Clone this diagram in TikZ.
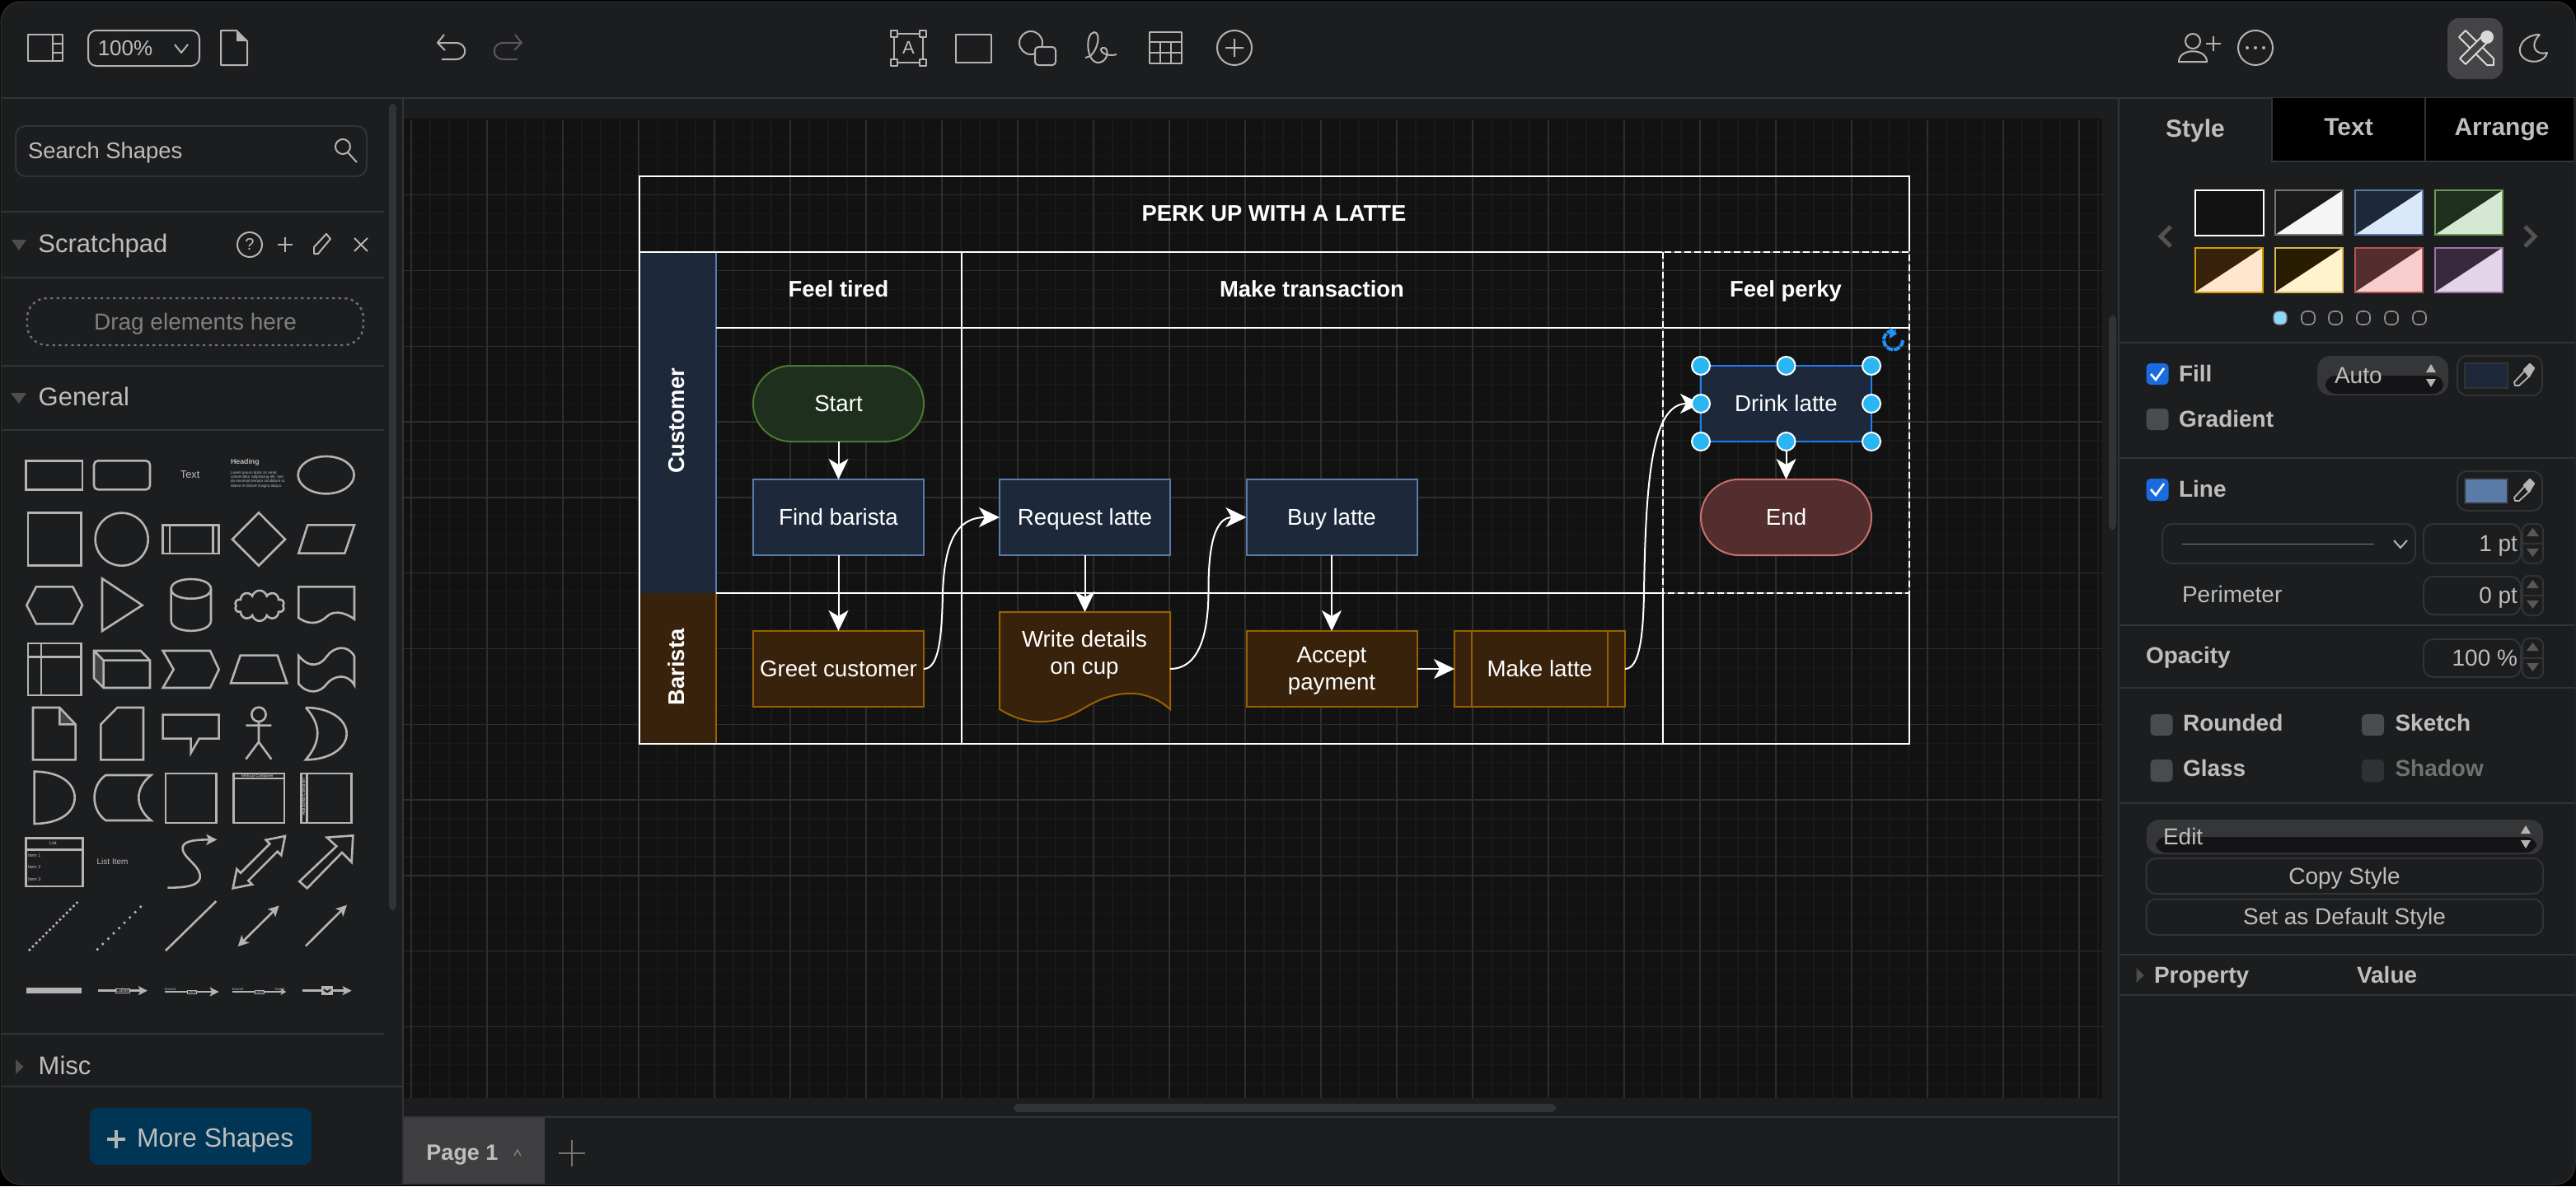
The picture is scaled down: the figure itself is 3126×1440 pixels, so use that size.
\documentclass[tikz,border=0pt]{standalone}
\usepackage{fontspec}
\setmainfont{Liberation Sans}
\usetikzlibrary{arrows.meta,shapes.geometric,shapes.symbols,calc}
\definecolor{uibg}{HTML}{1C1D1F}
\definecolor{cnv}{HTML}{121212}
\definecolor{sepc}{HTML}{323335}
\definecolor{uit}{HTML}{BEBEBE}
\definecolor{ico}{HTML}{B4B4B4}
\definecolor{gminor}{HTML}{1A1A1A}
\definecolor{gmajor}{HTML}{2E2E2E}
\definecolor{bluef}{HTML}{1D293B}
\definecolor{blues}{HTML}{5A7AA8}
\definecolor{orf}{HTML}{38220C}
\definecolor{ors}{HTML}{996000}
\definecolor{grf}{HTML}{1F2F1E}
\definecolor{grs}{HTML}{4A7A2E}
\definecolor{ref}{HTML}{542E2E}
\definecolor{res}{HTML}{C9706E}
\definecolor{hblue}{HTML}{29B6F2}
\definecolor{chk}{HTML}{1A6BE0}
\definecolor{chg}{HTML}{4A4B4D}
\definecolor{morebtn}{HTML}{003555}
\definecolor{sw2d}{HTML}{1A1A1A}\definecolor{sw2l}{HTML}{F5F5F5}\definecolor{sw2b}{HTML}{777777}
\definecolor{sw3l}{HTML}{DAE8FC}
\definecolor{sw4l}{HTML}{D5E8D4}\definecolor{sw4b}{HTML}{6A9A50}
\definecolor{sw5l}{HTML}{FFE6CC}\definecolor{sw5b}{HTML}{D79B00}
\definecolor{sw6d}{HTML}{281D00}\definecolor{sw6l}{HTML}{FFF2CC}\definecolor{sw6b}{HTML}{D6B656}
\definecolor{sw7l}{HTML}{F8CECC}\definecolor{sw7b}{HTML}{B85450}
\definecolor{sw8d}{HTML}{39293D}\definecolor{sw8l}{HTML}{E1D5E7}\definecolor{sw8b}{HTML}{9673A6}
\tikzset{
  x=0.5pt,y=-0.5pt,
  fs/.code={\pgfmathsetmacro\fsh{0.65*#1}\tikzset{font=\fontsize{#1}{#1}\selectfont,text height=\fsh pt,text depth=0pt}},
  uitx/.style={inner sep=0pt,outer sep=0pt,text=uit},
  sepl/.style={draw=sepc,line width=1pt},
  boxl/.style={draw=sepc,line width=1pt,rounded corners=6pt},
  icon/.style={draw=ico,line width=1pt,line join=round},
  sh/.style={draw=ico,line width=1.3pt,line join=miter},
  flow/.style={inner sep=0pt,outer sep=0pt,minimum width=103.5pt,minimum height=46pt,line width=1pt,text=white,fs=13.85},
  bluebox/.style={flow,draw=blues,fill=bluef},
  orbox/.style={flow,draw=ors,fill=orf},
  pill/.style={flow,rounded corners=23pt},
  wl/.style={draw=white,line width=1pt},
  conn/.style={draw=white,line width=1pt,-{Stealth[length=12.5pt,width=12pt,inset=3.5pt]}},
  head/.style={uitx,text=white,fs=13.7},
  handle/.style={circle,fill=hblue,draw=white,line width=1pt,minimum size=11pt,inner sep=0pt},
  chkon/.style={fill=chk,rounded corners=2.5pt},
  chkoff/.style={fill=chg,rounded corners=2.5pt},
  swb/.style={line width=1pt},
}
\newcommand{\T}[5][anchor=west]{\node[uitx,fs=#4,#1] (#2) at (#3) {#5};}
\newcommand{\spin}[1]{%
  \draw[boxl,rounded corners=4pt] (3061,#1-24) rectangle (3086,#1+24);
  \draw[sepc,line width=.8pt] (3061,#1) -- (3086,#1);
  \fill[gray!60!uibg] (3073.5,#1-19) -- (3081,#1-9) -- (3066,#1-9) -- cycle;
  \fill[gray!60!uibg] (3073.5,#1+16) -- (3081,#1+6) -- (3066,#1+6) -- cycle;}
\newcommand{\dropper}[2]{%
  \begin{scope}[shift={(#1,#2)}]
  \draw[icon,line width=.9pt] (-10,12) -- (-11,8) -- (2,-6) -- (8,0) -- (-5,12) -- cycle;
  \draw[icon,line width=1.1pt,fill=ico] (1,-7) -- (8,-14) -- (13,-9) -- (7,1) -- cycle;
  \end{scope}}
\newcommand{\updown}[2]{%
  \fill[ico] (#1,#2-14) -- (#1+6,#2-4) -- (#1-6,#2-4) -- cycle;
  \fill[ico] (#1,#2+14) -- (#1+6,#2+4) -- (#1-6,#2+4) -- cycle;}
\newcommand{\swatch}[5]{% x y dark light border
  \fill[#3] (#1,#2) rectangle (#1+82,#2+54);
  \fill[#4] (#1+82,#2) -- (#1+82,#2+54) -- (#1,#2+54) -- cycle;
  \draw[#5,swb] (#1,#2) rectangle (#1+82,#2+54);}
\newcommand{\dotb}[1]{\draw[draw=ico!75!uibg,line width=.8pt,rounded corners=3pt] (#1-8,378) rectangle (#1+8,394);}
\begin{document}
\begin{tikzpicture}
\useasboundingbox (0,0) rectangle (3126,1440);
\fill[black] (0,0) rectangle (3126,1440);
\fill[uibg,draw=sepc,line width=.5pt,rounded corners=12pt] (1,2) rectangle (3125,1438);
% ---------- canvas
\fill[cnv] (489,144) rectangle (2551,1333);
\begin{scope}
\clip (489,146) rectangle (2551,1333);
\foreach \i in {-1,...,95}{\draw[gminor,line width=.6pt] (499+23*\i,144) -- (499+23*\i,1333);}
\foreach \i in {-4,...,50}{\draw[gminor,line width=.6pt] (489,236.7+22.95*\i) -- (2551,236.7+22.95*\i);}
\foreach \i in {0,...,22}{\draw[gmajor,line width=.7pt] (499+92*\i,144) -- (499+92*\i,1333);}
\foreach \i in {-1,...,12}{\draw[gmajor,line width=.7pt] (489,236.7+91.8*\i) -- (2551,236.7+91.8*\i);}
\end{scope}
% ---------- chrome lines
\draw[sepl] (1,118.5) -- (3125,118.5);
\draw[sepl] (489,118) -- (489,1438);
\draw[sepl] (2571,118) -- (2571,1438);
\draw[sepl] (489,1356) -- (2571,1356);
\fill[sepc,rounded corners=3pt] (472,126) rectangle (481,1105);
\fill[sepc,rounded corners=3pt] (2559,383) rectangle (2568,643);
\fill[sepc,rounded corners=3pt] (1230,1340) rectangle (1888,1350);
% ---------- top bar
\draw[icon] (34,42) rectangle (76,74) (64,42) -- (64,74) (64,53) -- (76,53) (64,64) -- (76,64);
\draw[icon,rounded corners=5pt] (107,37) rectangle (242,80);
\T[anchor=center]{zoomtxt}{152,59}{13}{100\%}
\draw[icon] (212,54) -- (220,64) -- (228,54);
\draw[icon] (268,37) -- (287,37) -- (300,50) -- (300,79) -- (268,79) -- cycle;
\fill[ico] (287,37) -- (300,50) -- (287,50) -- cycle;
\draw[icon] (539,42) -- (531,52) -- (540,61) (531,52) -- (553,52) .. controls (568,52) and (568,72) .. (553,72) -- (536,72);
\draw[icon,draw=ico!40!uibg] (625,42) -- (633,52) -- (624,61) (633,52) -- (611,52) .. controls (596,52) and (596,72) .. (611,72) -- (628,72);
\draw[icon] (1085,41) rectangle (1120,76);
\foreach \p/\q in {1085/41,1120/41,1085/76,1120/76}{\draw[icon,fill=uibg] (\p-4,\q-4) rectangle (\p+4,\q+4);}
\T[anchor=center]{atxt}{1102.5,58}{11}{A}
\draw[icon] (1160,42) rectangle (1203,76);
\draw[icon] (1251,52) circle[radius=14];
\draw[icon,fill=uibg,rounded corners=2pt] (1256,57) rectangle (1281,79);
\draw[icon] (1317,70) .. controls (1330,70) and (1338,40) .. (1328,39) .. controls (1316,40) and (1318,78) .. (1334,76) .. controls (1346,74) and (1346,56) .. (1338,58) .. controls (1332,60) and (1340,70) .. (1355,66);
\draw[icon] (1395,39) rectangle (1434,77) (1395,51) -- (1434,51) (1395,64) -- (1434,64) (1408,51) -- (1408,77) (1421,51) -- (1421,77);
\draw[icon] (1498,58) circle[radius=21] (1498,47) -- (1498,69) (1487,58) -- (1509,58);
\draw[icon] (2661,50) circle[radius=9] (2644,75) .. controls (2644,58) and (2678,58) .. (2678,75) -- cycle;
\draw[icon] (2686,44) -- (2686,62) (2677,53) -- (2695,53);
\draw[icon] (2737,58) circle[radius=21];
\foreach \d in {-10,0,10}{\fill[ico] (2737+\d,58) circle[radius=2];}
\fill[gray!40!uibg,rounded corners=7pt] (2970,22) rectangle (3037,96);
\begin{scope}[shift={(3005,58)}]
\draw[icon,draw=white!85!black] (-21,-13) -- (-13,-21) -- (21,13) -- (21,21) -- (13,21) -- cycle;
\draw[icon,draw=white!85!black,fill=gray!40!uibg] (-20,13) -- (6,-13) -- (13,-6) -- (-13,20) -- cycle;
\fill[white!85!black] (13,-13) circle[radius=8];
\end{scope}
\draw[icon] (3082,42) .. controls (3060,42) and (3052,62) .. (3062,70) .. controls (3070,78) and (3088,76) .. (3091,64) .. controls (3078,68) and (3068,56) .. (3082,42);
% ---------- left panel head
\draw[boxl] (19,153) rectangle (445,214);
\T{searchtxt}{34,184}{13.7}{Search Shapes}
\draw[icon] (416,178) circle[radius=9] (422,185) -- (433,197);
\draw[sepl] (1,257) -- (466,257);
\fill[gray!50!uibg] (14,291) -- (32,291) -- (23,304) -- cycle;
\T{scratchtxt}{46.5,296}{15.5}{Scratchpad}
\draw[icon] (303,297) circle[radius=15];
\T[anchor=center]{qtxt}{303,297}{10}{?}
\draw[icon] (346,288) -- (346,306) (337,297) -- (355,297);
\draw[icon] (381,308) -- (381,300) -- (396,284) -- (401,290) -- (386,308) -- cycle;
\draw[icon] (430,289) -- (446,305) (446,289) -- (430,305);
\draw[sepl] (1,337) -- (466,337);
\draw[draw=gray!85!uibg,line width=1.2pt,dash pattern=on 1.6pt off 2.2pt,rounded corners=12pt] (33,362) rectangle (441,419);
\T[anchor=center]{dragtxt}{237,391}{14}{\textcolor{gray}{Drag elements here}}
\draw[sepl] (1,444) -- (466,444);
\fill[gray!50!uibg] (13,477) -- (32,477) -- (23,490) -- cycle;
\T{generaltxt}{46.7,482}{15.5}{General}
\draw[sepl] (1,522) -- (466,522);
% ---------- shape palette upper (zoom coordinates)
\begin{scope}[shift={(0,460)},x=.16667pt,y=-.16667pt]
\draw[sh] (95,298) rectangle (300,403);
\draw[sh,rounded corners=2.5pt] (342,298) rectangle (546,403);
\T[anchor=center]{ptext}{692,348}{6.4}{Text}
\T{pheading}{840,303}{4.4}{\textbf{Heading}}
\T{plorem1}{840,343}{2.3}{Lorem ipsum dolor sit amet,}
\T{plorem2}{840,358}{2.3}{consectetur adipisicing elit, sed}
\T{plorem3}{840,373}{2.3}{do eiusmod tempor incididunt ut}
\T{plorem4}{840,390}{2.3}{labore et dolore magna aliqua.}
\draw[sh] (1187,350) ellipse[x radius=102,y radius=68];
\draw[sh] (102,488) rectangle (295,680);
\draw[sh] (443,584) circle[radius=96];
\draw[sh] (593,532) rectangle (797,636) (618,532) -- (618,636) (775,532) -- (775,636);
\draw[sh] (942,487) -- (1038,584) -- (942,680) -- (846,584) -- cycle;
\draw[sh] (1087,635) -- (1120,532) -- (1290,532) -- (1255,635) -- cycle;
\draw[sh] (97,824) -- (132,757) -- (265,757) -- (300,824) -- (265,892) -- (132,892) -- cycle;
\draw[sh] (372,727) -- (518,824) -- (372,918) -- cycle;
\draw[sh] (623,765) .. controls (623,717) and (768,717) .. (768,765) -- (768,880) .. controls (768,930) and (623,930) .. (623,880) -- cycle;
\draw[sh] (623,765) .. controls (623,812) and (768,812) .. (768,765);
\node[cloud,sh,cloud puffs=10,aspect=1.6,minimum width=30pt,minimum height=18.5pt,inner sep=0pt] (pcloud) at (945,826) {};
\draw[sh] (1087,757) -- (1290,757) -- (1290,875) .. controls (1250,845) and (1210,845) .. (1190,865) .. controls (1160,895) and (1120,895) .. (1087,870) -- cycle;
\draw[sh] (102,963) rectangle (295,1152) (150,963) -- (150,1152) (102,1012) -- (295,1012);
\fill[gray!40!uibg] (342,990) -- (377,1025) -- (377,1125) -- (342,1090) -- cycle;
\draw[sh] (342,990) -- (512,990) -- (546,1025) -- (546,1125) -- (377,1125) -- (342,1090) -- cycle (342,990) -- (377,1025) -- (546,1025) (377,1025) -- (377,1125);
\draw[sh] (593,990) -- (765,990) -- (797,1058) -- (765,1125) -- (593,1125) -- (632,1058) -- cycle;
\draw[sh] (840,1108) -- (875,1007) -- (1010,1007) -- (1045,1108) -- cycle;
\draw[sh] (1087,1008) .. controls (1130,1060) and (1170,1040) .. (1190,1010) .. controls (1215,975) and (1265,965) .. (1290,1010) -- (1290,1115) .. controls (1265,1070) and (1215,1080) .. (1190,1110) .. controls (1165,1145) and (1120,1150) .. (1087,1110) -- cycle;
\fill[gray!40!uibg] (217,1197) -- (275,1258) -- (217,1258) -- cycle;
\draw[sh] (120,1197) -- (217,1197) -- (275,1258) -- (275,1387) -- (120,1387) -- cycle (217,1197) -- (217,1258) -- (275,1258);
\draw[sh] (367,1258) -- (427,1197) -- (522,1197) -- (522,1387) -- (367,1387) -- cycle;
\draw[sh] (593,1223) -- (797,1223) -- (797,1310) -- (725,1310) -- (695,1362) -- (695,1310) -- (593,1310) -- cycle;
\draw[sh] (942,1222) circle[radius=26] (942,1248) -- (942,1322) (895,1262) -- (988,1262) (895,1385) -- (942,1322) -- (988,1385);
\draw[sh] (1113,1197) .. controls (1200,1197) and (1262,1240) .. (1262,1292) .. controls (1262,1345) and (1200,1387) .. (1113,1387) .. controls (1170,1320) and (1170,1260) .. (1113,1197);
\end{scope}
% ---------- shape palette lower (zoom coordinates)
\begin{scope}[shift={(0,940)},x=.16667pt,y=-.16667pt]
\draw[sh] (125,-10) .. controls (215,-10) and (272,30) .. (272,85) .. controls (272,140) and (215,180) .. (125,180) -- cycle;
\draw[sh] (385,3) -- (550,3) .. controls (490,50) and (490,120) .. (550,168) -- (385,168) .. controls (330,130) and (330,40) .. (385,3) -- cycle;
\draw[sh] (603,-3) rectangle (788,177);
\draw[sh] (850,-3) rectangle (1035,177) (850,15) -- (1035,15);
\T[anchor=center]{pvert}{937,5}{2.3}{\bfseries Vertical Container}
\draw[sh] (1097,-3) rectangle (1280,177) (1117,-3) -- (1117,177);
\T[anchor=center,rotate=90]{phoriz}{1106,82}{2.3}{\bfseries Horizontal Container}
\draw[sh] (95,232) rectangle (302,408) (95,275) -- (302,275);
\T[anchor=center]{plist}{193,252}{2.9}{List}
\T{pi1}{102,296}{2.8}{Item 1}
\T{pi2}{102,339}{2.8}{Item 2}
\T{pi3}{102,382}{2.8}{Item 3}
\T{plistitem}{353,319}{5}{List Item}
\draw[sh,-{Stealth[length=6.5pt,width=6.5pt,inset=1.5pt]}] (610,413) .. controls (680,413) and (735,405) .. (728,365) .. controls (720,325) and (660,300) .. (665,265) .. controls (670,240) and (720,238) .. (790,238);
\draw[sh] (1038,225) -- (1024,295) -- (1010,281) -- (904,387) -- (918,401) -- (848,415) -- (862,345) -- (876,359) -- (982,253) -- (968,239) -- cycle;
\draw[sh] (1285,223) -- (1280,320) -- (1245,285) -- (1118,415) -- (1090,390) -- (1225,262) -- (1190,230) -- cycle;
\draw[sh,dash pattern=on 1.3pt off 1.6pt] (105,642) -- (283,465);
\draw[sh,dash pattern=on 1.3pt off 3.3pt] (352,640) -- (520,475);
\draw[sh] (603,642) -- (787,462);
\draw[sh,{Stealth[length=6.5pt,width=6.5pt,inset=1.5pt]}-{Stealth[length=6.5pt,width=6.5pt,inset=1.5pt]}] (866,627) -- (1016,478);
\draw[sh,-{Stealth[length=6.5pt,width=6.5pt,inset=1.5pt]}] (1113,625) -- (1263,476);
\fill[ico] (97,778) rectangle (298,797);
\draw[sh,-{Stealth[length=5.5pt,width=5.5pt,inset=1.2pt]}] (357,788) -- (537,788);
\node[uitx,fill=uibg,draw=ico,line width=.2pt,fs=3.3,inner sep=.2pt] (plab1) at (447,788) {Label};
\draw[sh,line width=1pt,-{Stealth[length=5.5pt,width=5.5pt,inset=1.2pt]}] (600,792) -- (797,792);
\T[anchor=center]{psrc1}{620,784}{2.2}{Source}
\node[uitx,fill=uibg,draw=ico,line width=.2pt,fs=2.2,inner sep=.2pt] (plab2) at (698,792) {Label};
\draw[sh,line width=1pt,-{Stealth[length=3.5pt,width=4pt,inset=1pt]}] (847,792) -- (1042,792);
\T[anchor=center]{psrc2}{866,784}{2.2}{Source}
\T[anchor=center]{ptgt2}{1018,784}{2.2}{Target}
\node[uitx,fill=uibg,draw=ico,line width=.2pt,fs=2.2,inner sep=.2pt] (plab3) at (944,792) {Label};
\draw[sh,-{Stealth[length=5.5pt,width=5.5pt,inset=1.2pt]}] (1100,788) -- (1280,788);
\fill[ico] (1170,770) rectangle (1212,803);
\fill[uibg] (1178,780) -- (1204,780) -- (1204,788) -- (1191,796) -- (1178,788) -- cycle;
\fill[ico] (1178,780) -- (1204,780) -- (1191,788) -- cycle;
\end{scope}
\draw[sepl] (1,1255) -- (466,1255);
\fill[gray!50!uibg] (19,1286) -- (28.5,1295) -- (19,1304) -- cycle;
\T{misctxt}{46.7,1294}{15.5}{Misc}
\draw[sepl] (1,1319) -- (489,1319);
\fill[morebtn,rounded corners=5pt] (109,1345) rectangle (378,1414);
\draw[ico,line width=1.8pt] (141,1372) -- (141,1394) (130,1383) -- (152,1383);
\T{moretxt}{166,1382}{16}{More Shapes}
% ---------- page tab
\fill[gray!35!uibg] (490,1357) rectangle (661,1437);
\T[anchor=center]{pagetxt}{561,1400}{13.5}{\bfseries Page 1}
\draw[draw=gray,line width=.7pt] (624,1403) -- (628,1396) -- (632,1403);
\draw[draw=gray!110!white,line width=1.3pt] (694,1384) -- (694,1416) (678,1400) -- (710,1400);
% ---------- right panel
\fill[black] (2758,119) rectangle (3123,196);
\draw[sepl] (2757,119) -- (2757,196) -- (3125,196) (2943,119) -- (2943,196);
\T[anchor=center]{tabstyle}{2664,157}{15}{\bfseries Style}
\T[anchor=center]{tabtext}{2850,155}{15}{\bfseries Text}
\T[anchor=center]{tabarr}{3036,155}{15}{\bfseries Arrange}
\draw[gray!55!uibg,line width=2.5pt] (2634,275) -- (2622,287) -- (2634,299);
\draw[gray!55!uibg,line width=2.5pt] (3064,275) -- (3076,287) -- (3064,299);
\fill[cnv] (2664,231) rectangle (2747,286);
\draw[white,swb] (2664,231) rectangle (2747,286);
\swatch{2761}{231}{sw2d}{sw2l}{sw2b}
\swatch{2858}{231}{bluef}{sw3l}{blues}
\swatch{2955}{231}{grf}{sw4l}{sw4b}
\swatch{2664}{300.5}{orf}{sw5l}{sw5b}
\swatch{2761}{300.5}{sw6d}{sw6l}{sw6b}
\swatch{2858}{300.5}{ref}{sw7l}{sw7b}
\swatch{2955}{300.5}{sw8d}{sw8l}{sw8b}
\dotb{2801}\dotb{2834}\dotb{2868}\dotb{2902}\dotb{2936}
\fill[cyan!45!white,draw=gray,line width=.6pt,rounded corners=3pt] (2759,378) rectangle (2775,394);
\draw[sepl] (2572,416) -- (3125,416);
\fill[chkon] (2604.5,441) rectangle (2631.5,467);
\draw[white,line width=1.3pt] (2610,454) -- (2616,461) -- (2626,447);
\T{filltxt}{2644,454}{14}{\bfseries Fill}
\fill[gray!25!uibg,rounded corners=8pt] (2812,432) rectangle (2971,480);
\fill[black!30!uibg,rounded corners=6pt] (2822,456) rectangle (2965,478);
\T{autotxt}{2833,456}{14}{Auto}
\updown{2950}{456}
\draw[boxl] (2982,432) rectangle (3085,480);
\fill[bluef,draw=sepc,line width=1pt] (2991,441) rectangle (3043,471);
\dropper{3062}{456}
\fill[chkoff] (2604.5,496) rectangle (2631.5,522);
\T{gradtxt}{2644,509.5}{14}{\bfseries Gradient}
\draw[sepl] (2572,555.5) -- (3125,555.5);
\fill[chkon] (2604.5,581) rectangle (2631.5,608);
\draw[white,line width=1.3pt] (2610,594) -- (2616,601) -- (2626,587);
\T{linetxt}{2644,594}{14}{\bfseries Line}
\draw[boxl] (2982,572) rectangle (3085,620);
\fill[blues,draw=sepc,line width=1pt] (2991,581) rectangle (3043,611);
\dropper{3062}{596}
\draw[boxl] (2624,636) rectangle (2931,684);
\draw[gray,line width=.8pt] (2648,660.5) -- (2881,660.5);
\draw[icon] (2905,656) -- (2913,665) -- (2921,656);
\draw[boxl] (2941,636) rectangle (3059,684);
\T[anchor=east]{pttxt}{3055,660}{14}{1 pt}
\spin{660}
\T{perimtxt}{2648,722}{14}{Perimeter}
\draw[boxl] (2941,700) rectangle (3059,746);
\T[anchor=east]{pt0txt}{3055,723}{14}{0 pt}
\spin{723}
\draw[sepl] (2572,759) -- (3125,759);
\T{opactxt}{2604,796}{14}{\bfseries Opacity}
\draw[boxl] (2941,776) rectangle (3059,822);
\T[anchor=east]{pcttxt}{3055,799}{14}{100 \%}
\spin{799}
\draw[sepl] (2572,835) -- (3125,835);
\fill[chkoff] (2609.5,867) rectangle (2636.5,893);
\T{roundtxt}{2649,878}{14}{\bfseries Rounded}
\fill[chkoff] (2866,867) rectangle (2893,893);
\T{sketchtxt}{2906.5,878}{14}{\bfseries Sketch}
\fill[chkoff] (2609.5,922) rectangle (2636.5,949);
\T{glasstxt}{2649,933.5}{14}{\bfseries Glass}
\fill[gray!20!uibg,rounded corners=2.5pt] (2866,922) rectangle (2893,949);
\T{shadowtxt}{2906.5,933.5}{14}{\bfseries\textcolor{gray!85!uibg}{Shadow}}
\draw[sepl] (2572,974.5) -- (3125,974.5);
\fill[gray!25!uibg,rounded corners=8pt] (2604.5,995) rectangle (3086,1037);
\fill[black!30!uibg,rounded corners=6pt] (2616,1016) rectangle (3078,1035);
\T{edittxt}{2625,1016}{14}{Edit}
\updown{3065}{1016}
\draw[boxl] (2604.5,1042) rectangle (3086,1085);
\T[anchor=center]{copytxt}{2845,1064}{14}{Copy Style}
\draw[boxl] (2604.5,1091.5) rectangle (3086,1135);
\T[anchor=center]{settxt}{2845,1113}{14}{Set as Default Style}
\draw[sepl] (2572,1159) -- (3125,1159);
\fill[gray!50!uibg] (2592.5,1175) -- (2601.5,1184) -- (2592.5,1193) -- cycle;
\T{proptxt}{2614,1184}{14}{\bfseries Property}
\T{valtxt}{2860,1184}{14}{\bfseries Value}
\draw[sepl] (2572,1208) -- (3125,1208);
% ---------- swimlane diagram
\fill[bluef] (776,306) rectangle (869,720);
\fill[orf] (776,720) rectangle (869,903);
\draw[blues,line width=1pt] (869,306) -- (869,720);
\draw[ors,line width=1pt] (869,720) -- (869,903);
\draw[wl] (776,214) rectangle (2317,903);
\draw[wl] (776,306) -- (2317,306);
\draw[wl] (869,398) -- (2317,398);
\draw[wl] (869,720) -- (2317,720);
\draw[wl] (1167,306) -- (1167,903);
\draw[wl] (2018,720) -- (2018,903);
\draw[draw=gray!70!black,line width=1.2pt] (2018,306) rectangle (2317,720);
\draw[draw=white,line width=1.2pt,dash pattern=on 4pt off 2pt] (2018,306) rectangle (2317,720);
\node[head] (title) at (1546,260) {\bfseries PERK UP WITH A LATTE};
\node[head] (c1) at (1017.5,352) {\bfseries Feel tired};
\node[head] (c2) at (1592,352) {\bfseries Make transaction};
\node[head] (c3) at (2167,352) {\bfseries Feel perky};
\node[head,rotate=90] (l1) at (822,511) {\bfseries Customer};
\node[head,rotate=90] (l2) at (822,810) {\bfseries Barista};
\node[pill,draw=grs,fill=grf] (start) at (1017.5,490) {Start};
\node[bluebox] (find) at (1017.5,628) {Find barista};
\node[orbox] (greet) at (1017.5,812) {Greet customer};
\node[bluebox] (request) at (1316.5,628) {Request latte};
\node[inner sep=0pt,outer sep=0pt,minimum width=103.5pt,minimum height=59pt] (doc) at (1316.5,802) {};
\fill[orf,draw=ors,line width=1pt] (doc.north west) -- (doc.north east) -- (doc.south east) .. controls (1385,830) and (1345,842) .. (1316.5,859) .. controls (1275,885) and (1240,878) .. (doc.south west) -- cycle;
\node[inner sep=0pt,text=white,font=\fontsize{13.85}{16.5}\selectfont,align=center] (doctxt) at (1316,795) {Write details\\on cup};
\node[bluebox] (buy) at (1616,628) {Buy latte};
\node[orbox] (accept) at (1616,812) {};
\node[inner sep=0pt,text=white,font=\fontsize{13.85}{16.5}\selectfont,align=center] (acctxt) at (1616,814) {Accept\\payment};
\node[orbox] (make) at (1868.5,812) {Make latte};
\draw[ors,line width=1pt] ([xshift=10.5pt]make.north west) -- ([xshift=10.5pt]make.south west);
\draw[ors,line width=1pt] ([xshift=-10.5pt]make.north east) -- ([xshift=-10.5pt]make.south east);
\node[bluebox,draw=hblue!70!blue] (drink) at (2167.5,490) {Drink latte};
\node[pill,draw=res,fill=ref] (end) at (2167.5,628) {End};
\coordinate (m1) at (1144,720);
\coordinate (m2) at (1466.5,720);
\coordinate (m3) at (1995,720);
\draw[conn] (start) -- (find);
\draw[conn] (find) -- (greet);
\draw[conn] (request) -- (doc.north);
\draw[conn] (buy) -- (accept);
\draw[conn] (accept) -- (make);
\draw[conn] (drink) -- (end);
\draw[conn] (greet.east) .. controls +(19,0) and (1143,770) .. (m1) .. controls (1146,660) and (1160,628) .. (request.west);
\draw[conn] ([yshift=-5pt]doc.east) .. controls +(35,0) and (1466,770) .. (m2) .. controls (1466,660) and (1475,628) .. (buy.west);
\draw[conn] (make.east) .. controls +(18,0) and (1994,770) .. (m3) .. controls (1997,580) and (2005,490) .. (drink.west);
\foreach \a/\n in {north west/nw,north/nn,north east/ne,west/ww,east/ee,south west/sw,south/ss,south east/se}{\node[handle] (h\n) at (drink.\a) {};}
\draw[hblue!80!blue,line width=2pt,dash pattern=on 4pt off .6pt] (2309,413) arc (0:285:11.5);
\fill[hblue!80!blue] (2293,397) -- (2302,405) -- (2293,411) -- cycle;
\end{tikzpicture}
\end{document}
